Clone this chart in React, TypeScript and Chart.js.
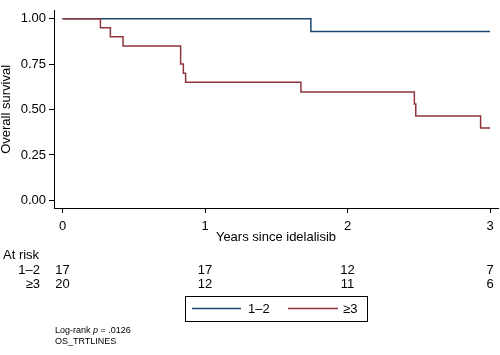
import React, { useEffect, useRef } from "react";
import { Chart, registerables } from "chart.js";

Chart.register(...registerables);

// ---- Data ----
const groupLabels = ["1–2", "≥3"];
const lowTimes = [0, 1.743, 3.0];
const lowSurv = [1.0, 0.929, 0.929];
const highTimes = [0, 0.266, 0.336, 0.425, 0.829, 0.848, 0.864, 1.673, 2.469, 2.479, 2.934, 3.0];
const highSurv = [1.0, 0.95, 0.9, 0.85, 0.75, 0.7, 0.65, 0.596, 0.53, 0.464, 0.398, 0.398];
const xTicks = [0, 1, 2, 3];
const yTicks = [0, 0.25, 0.5, 0.75, 1.0];
const atRiskTimes = [0, 1, 2, 3];
const atRiskLow = [17, 17, 12, 7];
const atRiskHigh = [20, 12, 11, 6];
const xTitle = "Years since idelalisib";
const yTitle = "Overall survival";
const pValueText = ".0126";
const footName = "OS_TRTLINES";

const BLUE = "#1a476f";
const RED = "#90353b";
const FONT = '"Liberation Sans", Arial, sans-serif';

const overlayPlugin = {
  id: "kmOverlay",
  afterDraw(chart: any) {
    const ctx = chart.ctx;
    const xs = chart.scales.x;
    const area = chart.chartArea;
    ctx.save();
    ctx.fillStyle = "#000";
    // y title
    ctx.save();
    ctx.font = `13px ${FONT}`;
    ctx.translate(10, (area.top + area.bottom) / 2);
    ctx.rotate(-Math.PI / 2);
    ctx.textAlign = "center";
    ctx.textBaseline = "alphabetic";
    ctx.fillText(yTitle, 0, 0);
    ctx.restore();
    // x title
    ctx.font = `13px ${FONT}`;
    ctx.textAlign = "center";
    ctx.textBaseline = "middle";
    ctx.fillText(xTitle, (area.left + area.right) / 2, 237);
    // at risk table
    ctx.textAlign = "left";
    ctx.fillText("At risk", 3, 255);
    ctx.textAlign = "right";
    ctx.fillText(groupLabels[0], 40, 270.5);
    ctx.fillText(groupLabels[1], 40, 284);
    ctx.textAlign = "center";
    atRiskTimes.forEach((t, i) => {
      const px = xs.getPixelForValue(t);
      ctx.fillText(String(atRiskLow[i]), px, 270.5);
      ctx.fillText(String(atRiskHigh[i]), px, 284);
    });
    // legend
    ctx.strokeStyle = "#000";
    ctx.lineWidth = 1;
    ctx.strokeRect(185.5, 296.5, 182, 25);
    ctx.lineWidth = 1.3;
    ctx.strokeStyle = BLUE;
    ctx.beginPath();
    ctx.moveTo(192, 308.5);
    ctx.lineTo(241, 308.5);
    ctx.stroke();
    ctx.strokeStyle = RED;
    ctx.beginPath();
    ctx.moveTo(288, 308.5);
    ctx.lineTo(338, 308.5);
    ctx.stroke();
    ctx.textAlign = "left";
    ctx.textBaseline = "middle";
    ctx.fillText(groupLabels[0], 248, 309);
    ctx.fillText(groupLabels[1], 343, 309);
    // footnotes
    ctx.font = `9px ${FONT}`;
    let x = 55;
    const y1 = 330.5;
    const part1 = "Log-rank ";
    ctx.fillText(part1, x, y1);
    x += ctx.measureText(part1).width;
    ctx.font = `italic 9px ${FONT}`;
    ctx.fillText("p", x, y1);
    x += ctx.measureText("p").width;
    ctx.font = `9px ${FONT}`;
    ctx.fillText(" = " + pValueText, x, y1);
    ctx.fillText(footName, 55, 342);
    ctx.restore();
  },
};

export default function App() {
  const ref = useRef<HTMLCanvasElement>(null);
  useEffect(() => {
    const canvas = ref.current;
    if (!canvas) return;
    const chart = new Chart(canvas, {
      type: "line",
      data: {
        datasets: [
          {
            label: groupLabels[0],
            data: lowTimes.map((t, i) => ({ x: t, y: lowSurv[i] })),
            borderColor: BLUE,
            borderWidth: 1.5,
            stepped: true,
            pointRadius: 0,
            fill: false,
            order: 1,
          },
          {
            label: groupLabels[1],
            data: highTimes.map((t, i) => ({ x: t, y: highSurv[i] })),
            borderColor: RED,
            borderWidth: 1.5,
            stepped: true,
            pointRadius: 0,
            fill: false,
            order: 0,
          },
        ],
      },
      options: {
        animation: false,
        responsive: false,
        devicePixelRatio: 1,
        layout: { padding: { left: 0, right: 2, top: 1, bottom: 0 } },
        plugins: { legend: { display: false }, tooltip: { enabled: false } },
        scales: {
          x: {
            type: "linear",
            min: -0.0596,
            max: 3.056,
            afterFit: (s: any) => {
              s.height = 147;
            },
            afterBuildTicks: (s: any) => {
              s.ticks = xTicks.map((v) => ({ value: v }));
            },
            grid: {
              display: true,
              drawOnChartArea: false,
              drawTicks: true,
              tickLength: 5,
              color: "#000",
              tickColor: "#000",
            },
            border: { display: true, color: "#000", width: 1 },
            ticks: {
              autoSkip: false,
              maxRotation: 0,
              padding: 6,
              color: "#000",
              font: { family: FONT, size: 13 },
              callback: (v: any) => String(v),
            },
          },
          y: {
            type: "linear",
            min: -0.042,
            max: 1.0435,
            afterFit: (s: any) => {
              s.width = 54;
            },
            afterBuildTicks: (s: any) => {
              s.ticks = yTicks.map((v) => ({ value: v }));
            },
            grid: {
              display: true,
              drawOnChartArea: false,
              drawTicks: true,
              tickLength: 5,
              color: "#000",
              tickColor: "#000",
            },
            border: { display: true, color: "#000", width: 1 },
            ticks: {
              autoSkip: false,
              padding: 3,
              color: "#000",
              font: { family: FONT, size: 13 },
              callback: (v: any) => Number(v).toFixed(2),
            },
          },
        },
      },
      plugins: [overlayPlugin],
    } as any);
    return () => chart.destroy();
  }, []);
  return (
    <div style={{ position: "fixed", left: 0, top: 0, width: 500, height: 355, background: "#fff" }}>
      <canvas ref={ref} width={500} height={355} style={{ display: "block" }} />
    </div>
  );
}
